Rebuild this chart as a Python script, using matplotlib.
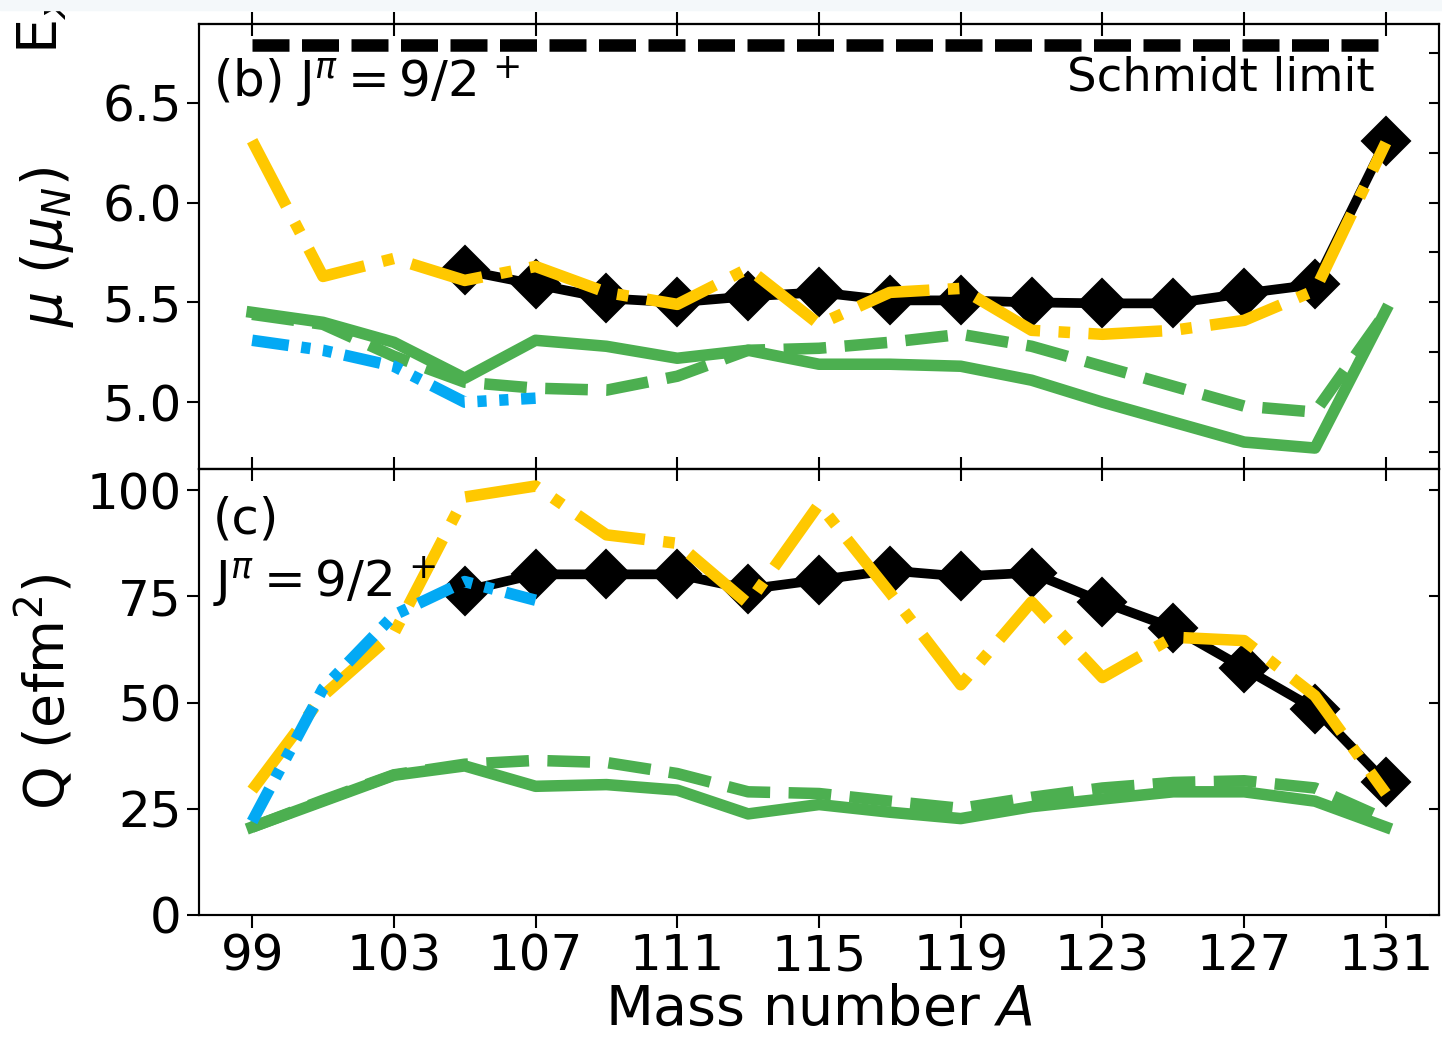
import matplotlib
matplotlib.use("Agg")
import matplotlib.pyplot as plt
from matplotlib.patches import Rectangle

# mass numbers (odd A)
A = [99, 101, 103, 105, 107, 109, 111, 113, 115, 117, 119, 121, 123, 125, 127, 129, 131]
A_exp = [105, 107, 109, 111, 113, 115, 117, 119, 121, 123, 125, 127, 129, 131]
A_blue = [99, 101, 103, 105, 107]
A_schmidt = [99, 131]

# (b) magnetic moments
mu_exp = [5.66, 5.59, 5.52, 5.50, 5.53, 5.55, 5.51, 5.51, 5.50, 5.495, 5.495, 5.545, 5.59, 6.31]
mu_yellow = [6.31, 5.63, 5.72, 5.61, 5.68, 5.55, 5.49, 5.67, 5.39, 5.55, 5.57, 5.36, 5.34, 5.36, 5.41, 5.56, 6.30]
mu_blue = [5.31, 5.26, 5.18, 5.00, 5.02]
mu_green = [5.45, 5.40, 5.30, 5.12, 5.31, 5.28, 5.22, 5.26, 5.19, 5.19, 5.18, 5.11, 5.00, 4.90, 4.80, 4.77, 5.46]
mu_green_d = [5.44, 5.39, 5.23, 5.10, 5.07, 5.06, 5.13, 5.26, 5.27, 5.30, 5.34, 5.28, 5.18, 5.08, 4.98, 4.95, 5.45]
mu_schmidt = [6.79, 6.79]

# (c) quadrupole moments
Q_exp = [76.3, 80.2, 80.2, 80.2, 76.7, 78.9, 81.1, 79.7, 80.6, 73.7, 67.6, 58.1, 48.5, 31.2]
Q_yellow = [29.4, 51.6, 66.3, 98.4, 101.0, 89.5, 87.5, 73.3, 96.7, 75.9, 54.2, 73.7, 55.9, 65.4, 64.6, 51.6, 28.6]
Q_blue = [22.0, 53.3, 70.6, 78.5, 74.1]
Q_green = [20.7, 26.8, 32.9, 35.1, 30.3, 30.7, 29.4, 23.8, 26.0, 24.2, 22.7, 25.5, 27.3, 29.0, 29.0, 26.8, 20.7]
Q_green_d = [20.7, 27.0, 33.0, 35.5, 36.4, 35.9, 33.3, 29.0, 28.6, 26.8, 25.1, 27.7, 29.9, 31.2, 31.6, 29.9, 22.5]

xticks = [99, 103, 107, 111, 115, 119, 123, 127, 131]

GREEN = '#4CAF50'
YELLOW = '#FFC800'
BLUE = '#03A9F4'
LW = 8.3
DASHDOTDOT = (0, (3.2, 1.1, 0.8, 1.1, 0.8, 1.1))

plt.rcParams['font.size'] = 36
plt.rcParams['axes.linewidth'] = 1.5

W, H = 1442, 1037
fig = plt.figure(figsize=(W / 100, H / 100), dpi=100)
axb = fig.add_axes([199 / W, 1 - 469 / H, 1240 / W, 445 / H])
axc = fig.add_axes([199 / W, 1 - 915 / H, 1240 / W, 446 / H])


def draw(ax, yg, ygd, yexp, yy, yb):
    ax.plot(A, yg, color=GREEN, lw=LW, ls='-')
    ax.plot(A, ygd, color=GREEN, lw=LW, ls='--')
    ax.plot(A_exp, yexp, color='k', lw=7, marker='D', ms=24, mew=1.5)
    ax.plot(A, yy, color=YELLOW, lw=LW, ls='-.')
    ax.plot(A_blue, yb, color=BLUE, lw=LW, ls=DASHDOTDOT)
    ax.set_xlim(97.5, 132.5)
    ax.set_xticks(xticks)
    ax.tick_params(axis='both', direction='out', length=9, width=1.5, labelsize=36)
    # ticks crossing the top spine
    top = ax.secondary_xaxis('top')
    top.set_xticks(xticks)
    top.tick_params(direction='inout', length=17, width=1.5, labeltop=False)


draw(axb, mu_green, mu_green_d, mu_exp, mu_yellow, mu_blue)
axb.plot(A_schmidt, mu_schmidt, color='k', lw=9, ls=(0, (2.96, 1.0)))
axb.set_ylim(4.665, 6.895)
axb.set_yticks([5.0, 5.5, 6.0, 6.5])
axb.tick_params(axis='x', bottom=False, labelbottom=False)
axb.set_ylabel(r'$\mu$ ($\mu_N$)', fontsize=40)
axb.yaxis.set_label_coords(-0.099, 0.5)
axb.text(0.011, 0.93, r'(b) J$^{\pi}=9/2^{\,+}$', transform=axb.transAxes,
         ha='left', va='top', fontsize=36)
axb.text(0.948, 0.93, 'Schmidt limit', transform=axb.transAxes,
         ha='right', va='top', fontsize=33.5)
rb = axb.twinx()
rb.set_ylim(axb.get_ylim())
rb.set_yticks([4.75, 5.0, 5.25, 5.5, 5.75, 6.0, 6.25, 6.5, 6.75])
rb.tick_params(direction='in', length=7, width=1.5, labelright=False)

draw(axc, Q_green, Q_green_d, Q_exp, Q_yellow, Q_blue)
axc.set_ylim(0, 105)
axc.set_yticks([0, 25, 50, 75, 100])
axc.set_ylabel(r'Q (efm$^2$)', fontsize=40)
axc.yaxis.set_label_coords(-0.099, 0.5)
axc.set_xlabel(r'Mass number $A$', fontsize=40, labelpad=2)
axc.text(0.011, 0.94, '(c)\n' + r'J$^{\pi}=9/2^{\,+}$', transform=axc.transAxes,
         ha='left', va='top', fontsize=36, linespacing=1.25)
rc = axc.twinx()
rc.set_ylim(axc.get_ylim())
rc.set_yticks([0, 25, 50, 75, 100])
rc.tick_params(direction='in', length=7, width=1.5, labelright=False)

# label of the panel above, cut off by the crop as in the source
fig.text(42 / W, 1 - 54 / H, r'E$_x$ (MeV)', rotation=90, ha='center', va='bottom', fontsize=40)
fig.add_artist(Rectangle((0, 1 - 10 / H), 1, 10 / H, transform=fig.transFigure,
                         color='#f4f8fa', zorder=10))

fig.savefig('out.png', dpi=100)
